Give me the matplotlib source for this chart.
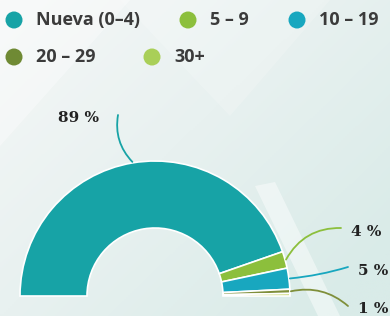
import numpy as np
import matplotlib.pyplot as plt
from matplotlib.colors import LinearSegmentedColormap
from matplotlib.patches import Polygon, Circle

# data
categories = ["Nueva (0–4)", "5 – 9", "10 – 19", "20 – 29", "30+"]
values = [89, 4, 5, 1, 0.6]
labels = ["89 %", "4 %", "5 %", "1 %", None]
colors = ["#17a3a6", "#8cbf3c", "#18a7bf", "#7f8f3a", "#c8d66a"]
legend_colors = ["#17a3a6", "#8cbf3c", "#18a7bf", "#6f8a34", "#a9cf58"]

W, H = 390, 316
fig = plt.figure(figsize=(W / 100, H / 100), dpi=100)
ax = fig.add_axes([0, 0, 1, 1])

# background gradient
xx, yy = np.meshgrid(np.linspace(0, 1, 200), np.linspace(0, 1, 160))
t = np.clip(0.6 * xx + 0.5 * yy, 0, 1)
cmap = LinearSegmentedColormap.from_list("bg", ["#f5f7f7", "#e8f1f0", "#d9ebe8"])
ax.imshow(t, cmap=cmap, extent=[0, W, 0, H], origin="upper", aspect="auto", zorder=0)
# faint geometric shapes
ax.add_patch(Polygon([[0, 170], [130, 316], [0, 316]], closed=True, color="white", alpha=0.35, lw=0, zorder=0.5))
ax.add_patch(Polygon([[255, 130], [275, 134], [340, 0], [318, 0]], closed=True, color="white", alpha=0.45, lw=0, zorder=0.5))
ax.add_patch(Polygon([[120, 316], [330, 316], [230, 200]], closed=True, color="white", alpha=0.18, lw=0, zorder=0.5))

# half donut
cx, cy, R, w = 155, 20, 135, 67
total = sum(values)
wedges, _ = ax.pie(values + [total], colors=colors + ["none"], startangle=180,
                   counterclock=False, radius=R, center=(cx, cy),
                   wedgeprops=dict(width=w, edgecolor="white", linewidth=1.2), frame=True)
wedges[-1].set_visible(False)
for wd in wedges:
    wd.set_zorder(2)

# labels with leader lines
label_pos = {0: (79, 198, 0.25), 1: (366, 84, 0.3), 2: (373, 45, -0.05), 3: (373, 7, 0.25)}
for i, (lx, ly, rad) in label_pos.items():
    wd = wedges[i]
    ang = np.deg2rad((wd.theta1 + wd.theta2) / 2)
    sx, sy = cx + (R + 1) * np.cos(ang), cy + (R + 1) * np.sin(ang)
    if i == 0:
        ex, ey = lx + 39, ly + 3
    else:
        ex, ey = lx - 25, ly + 4 if i < 3 else ly + 3
    ax.annotate("", xy=(sx, sy), xytext=(ex, ey),
                arrowprops=dict(arrowstyle="-", color=colors[i], lw=1.3,
                                connectionstyle=f"arc3,rad={rad}", shrinkA=0, shrinkB=0),
                zorder=3)
    ax.text(lx, ly, labels[i], ha="center", va="center", fontsize=11,
            fontweight="bold", family="DejaVu Serif", color="#222222", zorder=4)

# legend
legend_rows = [(0, 14, 296), (1, 188, 296), (2, 297, 296), (3, 14, 259), (4, 152, 259)]
for i, x0, y0 in legend_rows:
    ax.add_patch(Circle((x0, y0), 8.5, color=legend_colors[i], lw=0, zorder=3))
    ax.text(x0 + 22, y0, categories[i], ha="left", va="center", fontsize=13,
            fontweight="bold", family="Open Sans", color="#3b3b3b", zorder=4)

ax.set_xlim(0, W)
ax.set_ylim(0, H)
ax.set_aspect("auto")
ax.axis("off")
fig.savefig("out.png", dpi=100)
